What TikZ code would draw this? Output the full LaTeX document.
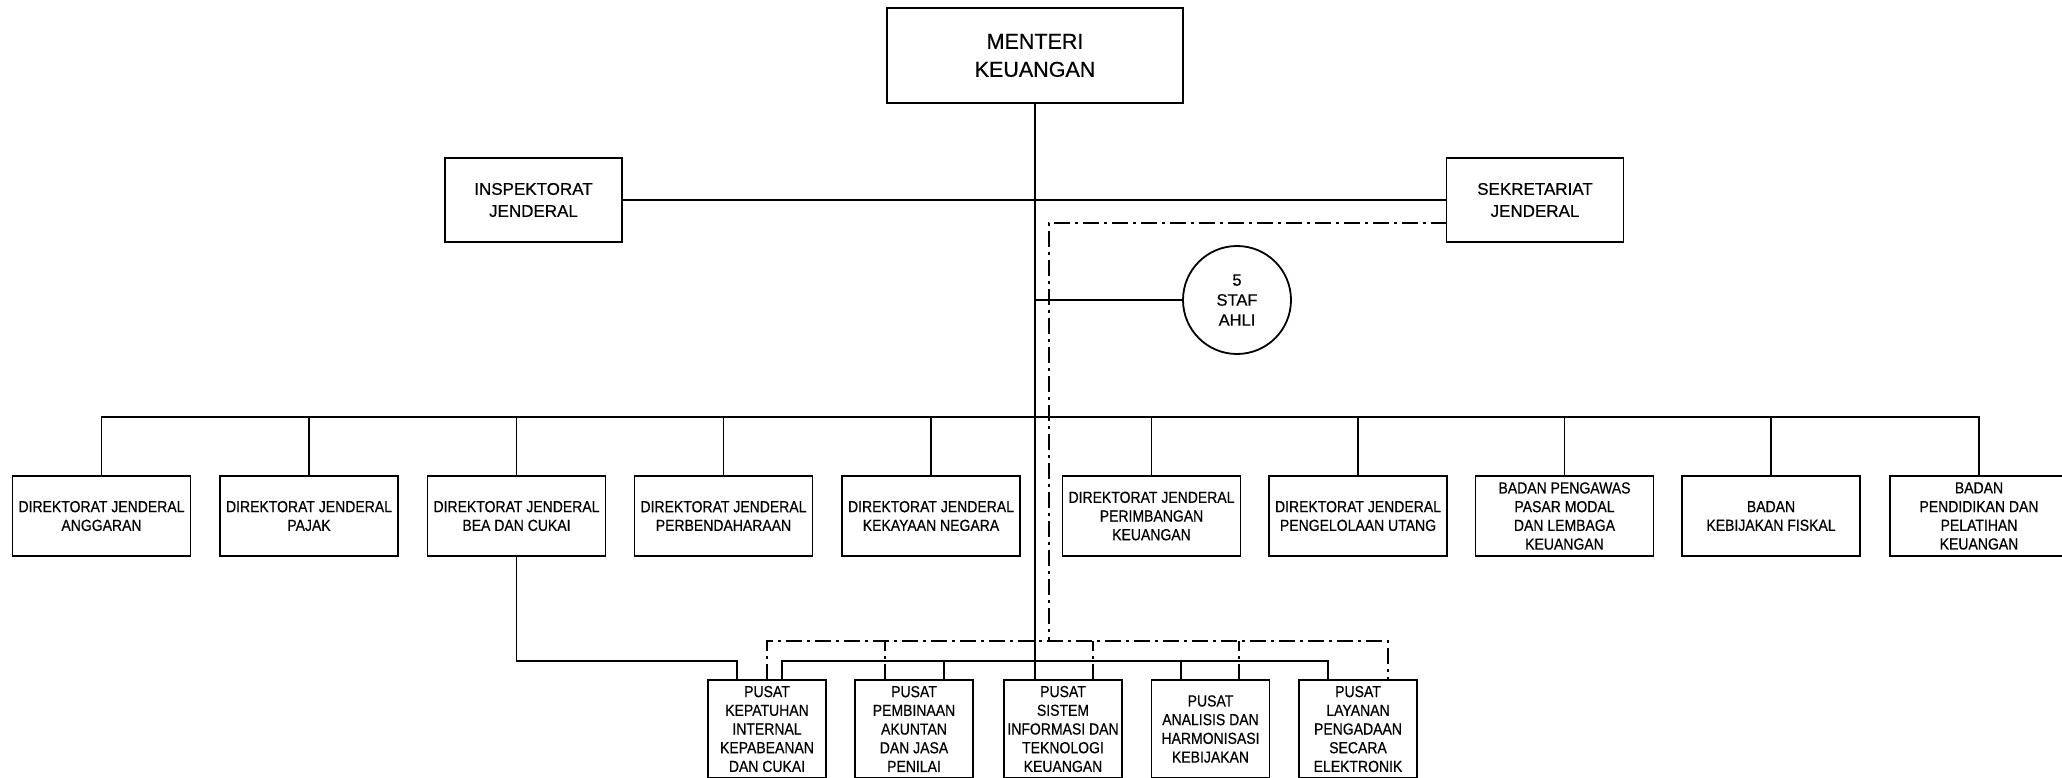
\documentclass[tikz,border=0pt]{standalone}
\usepackage{fontspec}
\setmainfont[FakeBold=0.5]{Liberation Sans}
\newfontfamily\narrowfont[FakeStretch=0.875,FakeBold=0.5]{Liberation Sans}
\begin{document}
\begin{tikzpicture}[x=1pt,y=-1pt, line width=1.8pt,
  box/.style={draw, rectangle, inner sep=0pt, align=center},
  big/.style={box, minimum width=296pt, minimum height=95pt, font=\fontsize{21.5}{28}\selectfont},
  mid/.style={box, minimum width=177pt, minimum height=84pt, font=\fontsize{17}{22}\selectfont},
  dbox/.style={box, minimum width=178pt, minimum height=80pt, font=\narrowfont\fontsize{16}{18.7}\selectfont},
  pbox/.style={box, minimum width=118pt, minimum height=98pt, font=\narrowfont\fontsize{16}{18.7}\selectfont},
  stafc/.style={draw, circle, minimum size=108pt, inner sep=0pt, align=center, font=\fontsize{16.5}{20}\selectfont},
  dd/.style={dash pattern=on 16pt off 5pt on 3pt off 5pt},
]
\useasboundingbox (0,0) rectangle (2062,778);

% top level
\node[big] (men) at (1035,55.5) {MENTERI\\KEUANGAN};
\node[mid] (insp) at (533.5,200) {INSPEKTORAT\\JENDERAL};
\node[mid] (sek) at (1535,200) {SEKRETARIAT\\JENDERAL};
\node[stafc] (staf) at (1237,300) {5\\STAF\\AHLI};

% directorates
\node[dbox] (d1) at (101.5,516) {DIREKTORAT JENDERAL\\ANGGARAN};
\node[dbox] (d2) at (309,516) {DIREKTORAT JENDERAL\\PAJAK};
\node[dbox] (d3) at (516.5,516) {DIREKTORAT JENDERAL\\BEA DAN CUKAI};
\node[dbox] (d4) at (723.5,516) {DIREKTORAT JENDERAL\\PERBENDAHARAAN};
\node[dbox] (d5) at (931,516) {DIREKTORAT JENDERAL\\KEKAYAAN NEGARA};
\node[dbox] (d6) at (1151.5,516) {DIREKTORAT JENDERAL\\PERIMBANGAN\\KEUANGAN};
\node[dbox] (d7) at (1358,516) {DIREKTORAT JENDERAL\\PENGELOLAAN UTANG};
\node[dbox] (d8) at (1564.5,516) {BADAN PENGAWAS\\PASAR MODAL\\DAN LEMBAGA\\KEUANGAN};
\node[dbox] (d9) at (1771,516) {BADAN\\KEBIJAKAN FISKAL};
\node[dbox] (d10) at (1979,516) {BADAN\\PENDIDIKAN DAN\\PELATIHAN\\KEUANGAN};

% centres
\node[pbox] (p1) at (767,729) {PUSAT\\KEPATUHAN\\INTERNAL\\KEPABEANAN\\DAN CUKAI};
\node[pbox] (p2) at (914,729) {PUSAT\\PEMBINAAN\\AKUNTAN\\DAN JASA\\PENILAI};
\node[pbox] (p3) at (1063,729) {PUSAT\\SISTEM\\INFORMASI DAN\\TEKNOLOGI\\KEUANGAN};
\node[pbox] (p4) at (1210.5,729) {PUSAT\\ANALISIS DAN\\HARMONISASI\\KEBIJAKAN};
\node[pbox] (p5) at (1358,729) {PUSAT\\LAYANAN\\PENGADAAN\\SECARA\\ELEKTRONIK};

% helper coordinates
\coordinate (bus) at (0,417);
\coordinate (sbus) at (0,661);
\coordinate (dbus) at (0,641);
\coordinate (dcol) at (1049,0);
\coordinate (sd) at (1447,223);
\coordinate (bc) at (737,680);
\coordinate (s1) at (782,680);
\coordinate (s2) at (944,680);
\coordinate (s4) at (1181,680);
\coordinate (s5) at (1328,680);
\coordinate (t1) at (767,680);
\coordinate (t2) at (885,680);
\coordinate (t3) at (1093,680);
\coordinate (t4) at (1239,680);
\coordinate (t5) at (1388,680);

% solid connectors
\draw (men.south) -- (men.south |- p3.north);
\draw (insp.east) -- (sek.west);
\draw (men.south |- staf.west) -- (staf.west);
\draw (d1.north) -- (d1.north |- bus) -- (d10.north |- bus) -- (d10.north);
\foreach \i in {2,...,9} \draw (d\i.north) -- (d\i.north |- bus);
\draw (s1) -- (s1 |- sbus) -- (s5 |- sbus) -- (s5);
\foreach \i in {2,4} \draw (s\i) -- (s\i |- sbus);
\draw (d3.south) -- (d3.south |- sbus) -- (bc |- sbus) -- (bc);

% dash-dot connectors
\draw[dd] (sd) -- (dcol |- sd) -- (dcol |- dbus);
\draw[dd] (t1) -- (t1 |- dbus) -- (t5 |- dbus) -- (t5);
\foreach \i in {2,3,4} \draw[dd] (t\i) -- (t\i |- dbus);
\end{tikzpicture}
\end{document}
